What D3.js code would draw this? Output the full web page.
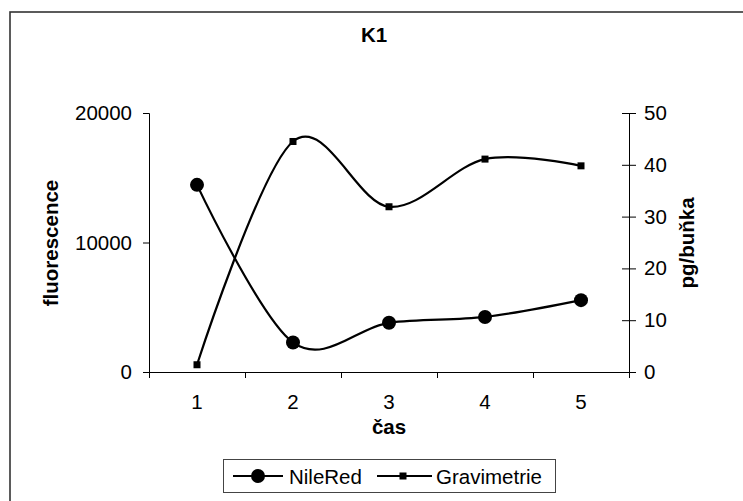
<!DOCTYPE html>
<html>
<head>
<meta charset="utf-8">
<script src="https://cdn.jsdelivr.net/npm/d3@7"></script>
<style>
  html, body { margin: 0; padding: 0; background: #fff; }
  svg { display: block; }
  text { font-family: "Liberation Sans", Arial, sans-serif; fill: #000; }
</style>
</head>
<body>
<svg id="chart" width="743" height="501"></svg>
<script>
// Measurement days
const categories = ["1", "2", "3", "4", "5"];
// NileRed fluorescence (left axis)
const nileRed = [14450, 2280, 3800, 4250, 5550];
// Gravimetric lipid content, pg per cell (right axis)
const gravimetrie = [1.4, 44.5, 31.9, 41.1, 39.8];
const leftTicks = [0, 10000, 20000];
const rightTicks = [0, 10, 20, 30, 40, 50];

const W = 743, H = 501;
const FS = 20.5;
const plot = { left: 149, right: 629, top: 113, bottom: 372 };

const svg = d3.select("#chart");

// chart area frame
svg.append("rect")
  .attr("x", 10).attr("y", 12)
  .attr("width", W + 20).attr("height", H + 20)
  .attr("fill", "#fff").attr("stroke", "#333").attr("stroke-width", 1.6);

const x = d3.scaleBand().domain(categories).range([plot.left, plot.right]).padding(0);
const cx = d => x(d) + x.bandwidth() / 2;
const yL = d3.scaleLinear().domain([0, 20000]).range([plot.bottom, plot.top]);
const yR = d3.scaleLinear().domain([0, 50]).range([plot.bottom, plot.top]);

// title
svg.append("text")
  .attr("x", 374).attr("y", 42)
  .attr("text-anchor", "middle")
  .attr("font-size", FS).attr("font-weight", "bold")
  .text("K1");

// left axis
const gL = svg.append("g")
  .attr("transform", `translate(${plot.left},0)`)
  .call(d3.axisLeft(yL).tickValues(leftTicks).tickSize(6).tickPadding(11).tickFormat(d3.format("d")));
gL.selectAll("text").attr("font-size", FS).attr("font-family", null);

// right axis, ticks crossing the line
const gR = svg.append("g")
  .attr("transform", `translate(${plot.right},0)`)
  .call(d3.axisRight(yR).tickValues(rightTicks).tickSize(7).tickPadding(8).tickFormat(d3.format("d")));
gR.selectAll(".tick line").attr("x1", -7);
gR.selectAll("text").attr("font-size", FS).attr("font-family", null);

// bottom axis: labels at category centres, ticks at category boundaries
const gB = svg.append("g")
  .attr("transform", `translate(0,${plot.bottom})`)
  .call(d3.axisBottom(x).tickSize(0).tickPadding(22));
gB.selectAll("text").attr("font-size", FS).attr("font-family", null);
gB.select(".domain").attr("d", `M${plot.left},0.5H${plot.right}`);
const bounds = categories.map(c => x(c)).concat([x(categories[categories.length - 1]) + x.bandwidth()]);
gB.selectAll(".bound").data(bounds).enter().append("line")
  .attr("class", "bound")
  .attr("x1", d => Math.round(d) + 0.5).attr("x2", d => Math.round(d) + 0.5)
  .attr("y1", 0).attr("y2", 6)
  .attr("stroke", "#000");

svg.selectAll(".domain, .tick line").attr("stroke", "#000");

// axis titles
svg.append("text")
  .attr("x", 389).attr("y", 434)
  .attr("text-anchor", "middle")
  .attr("font-size", FS).attr("font-weight", "bold")
  .text("čas");
svg.append("text")
  .attr("transform", "translate(58,243) rotate(-90)")
  .attr("text-anchor", "middle")
  .attr("font-size", FS).attr("font-weight", "bold")
  .text("fluorescence");
svg.append("text")
  .attr("transform", "translate(694,243) rotate(-90)")
  .attr("text-anchor", "middle")
  .attr("font-size", FS).attr("font-weight", "bold")
  .text("pg/buňka");

// series
const curve = d3.curveCardinal.tension(0);
const lineL = d3.line().x((d, i) => cx(categories[i])).y(d => yL(d)).curve(curve);
const lineR = d3.line().x((d, i) => cx(categories[i])).y(d => yR(d)).curve(curve);

svg.append("path").attr("d", lineL(nileRed))
  .attr("fill", "none").attr("stroke", "#000").attr("stroke-width", 2.2);
svg.append("path").attr("d", lineR(gravimetrie))
  .attr("fill", "none").attr("stroke", "#000").attr("stroke-width", 2.2);

svg.selectAll(".dotL").data(nileRed).enter().append("circle")
  .attr("cx", (d, i) => cx(categories[i])).attr("cy", d => yL(d))
  .attr("r", 7).attr("fill", "#000");
svg.selectAll(".dotR").data(gravimetrie).enter().append("rect")
  .attr("x", (d, i) => cx(categories[i]) - 3.5).attr("y", d => yR(d) - 3.5)
  .attr("width", 7).attr("height", 7).attr("fill", "#000");

// legend
const lg = svg.append("g");
lg.append("rect")
  .attr("x", 223.5).attr("y", 459.5).attr("width", 332).attr("height", 33)
  .attr("fill", "#fff").attr("stroke", "#444").attr("stroke-width", 1);
const ly = 476;
lg.append("line").attr("x1", 233).attr("x2", 283).attr("y1", ly).attr("y2", ly)
  .attr("stroke", "#000").attr("stroke-width", 2.2);
lg.append("circle").attr("cx", 258).attr("cy", ly).attr("r", 7).attr("fill", "#000");
lg.append("text").attr("x", 289).attr("y", ly + 7.5).attr("font-size", FS).text("NileRed");
lg.append("line").attr("x1", 377).attr("x2", 432).attr("y1", ly).attr("y2", ly)
  .attr("stroke", "#000").attr("stroke-width", 2.2);
lg.append("rect").attr("x", 399.5).attr("y", ly - 3.5).attr("width", 7).attr("height", 7).attr("fill", "#000");
lg.append("text").attr("x", 436).attr("y", ly + 7.5).attr("font-size", FS).text("Gravimetrie");
</script>
</body>
</html>
